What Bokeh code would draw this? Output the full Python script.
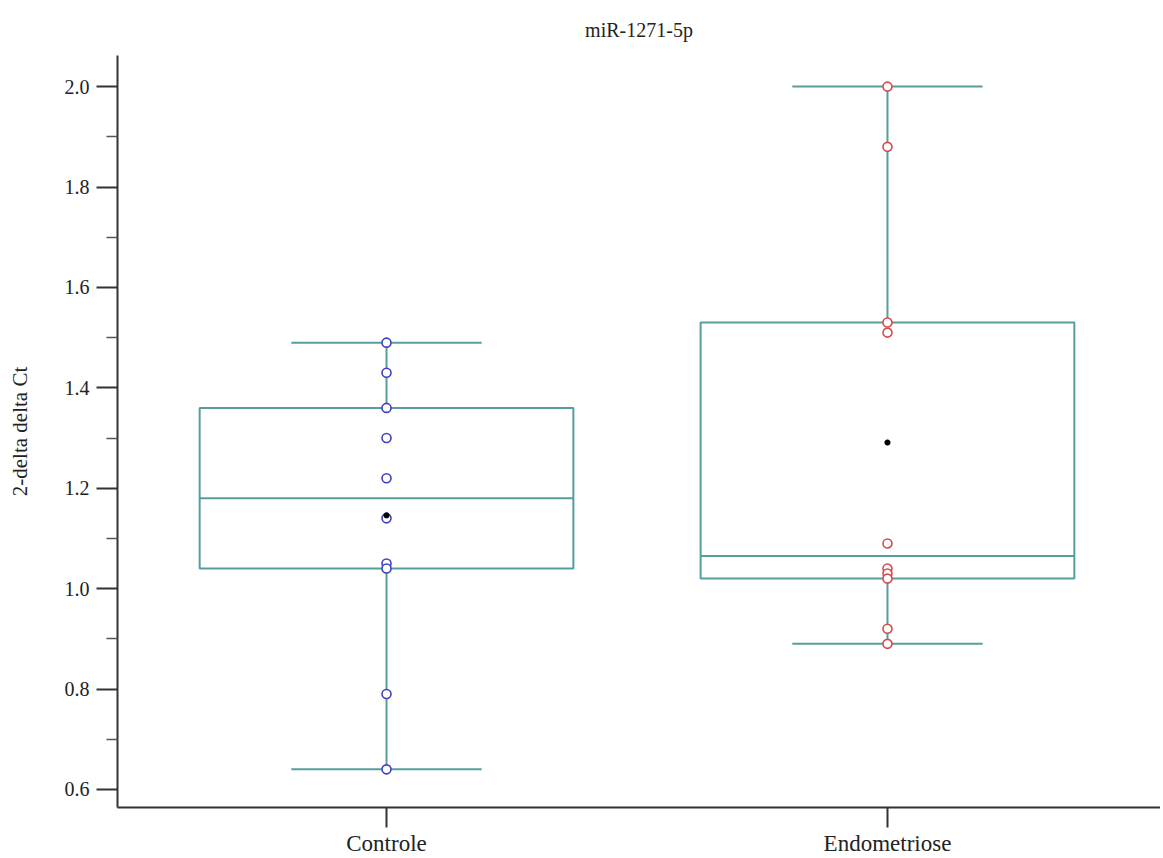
import numpy as np
from bokeh.plotting import figure
from bokeh.models import Range1d, FixedTicker, NumeralTickFormatter
from bokeh.embed import file_html
from bokeh.resources import INLINE

# ---- data ----
title_text = "miR-1271-5p"
y_label = "2-delta delta Ct"
categories = ["Controle", "Endometriose"]
controle = [1.49, 1.43, 1.36, 1.30, 1.22, 1.14, 1.05, 1.04, 0.79, 0.64]
endometriose = [2.00, 1.88, 1.53, 1.51, 1.09, 1.04, 1.03, 1.02, 0.92, 0.89]
y_ticks = [0.6, 0.8, 1.0, 1.2, 1.4, 1.6, 1.8, 2.0]
y_minor_ticks = [0.7, 0.9, 1.1, 1.3, 1.5, 1.7, 1.9]

groups = [controle, endometriose]
point_colors = ["#3f3fc4", "#d64c4c"]
box_color = "#559e9e"
FONT = "Liberation Serif"


def tukey_stats(vals):
    s = np.sort(np.asarray(vals, dtype=float))
    n = len(s)
    med = float(np.median(s))
    half = (n + 1) // 2
    lower = s[:half]
    upper = s[n - half:]
    return dict(min=float(s[0]), q1=float(np.median(lower)), med=med,
                q3=float(np.median(upper)), max=float(s[-1]), mean=float(s.mean()))


p = figure(width=1160, height=858, output_backend="svg", toolbar_location=None,
           x_range=Range1d(-0.537, 1.545), y_range=Range1d(0.564, 2.062),
           min_border_left=117, min_border_right=0, min_border_top=55, min_border_bottom=51,
           title=title_text)

p.grid.visible = False
p.outline_line_color = None
p.background_fill_color = "white"
p.border_fill_color = "white"

p.title.align = "center"
p.title.text_font = FONT
p.title.text_font_size = "20px"
p.title.text_font_style = "normal"
p.title.text_color = "#222222"
p.title.standoff = 30

BOX_HW = 0.373
CAP_HW = 0.19
for i, g in enumerate(groups):
    st = tukey_stats(g)
    x = float(i)
    # whiskers
    p.segment(x0=[x, x], y0=[st["q3"], st["q1"]], x1=[x, x], y1=[st["max"], st["min"]],
              line_color=box_color, line_width=2)
    # caps
    p.segment(x0=[x - CAP_HW, x - CAP_HW], y0=[st["max"], st["min"]],
              x1=[x + CAP_HW, x + CAP_HW], y1=[st["max"], st["min"]],
              line_color=box_color, line_width=2)
    # box
    p.quad(left=[x - BOX_HW], right=[x + BOX_HW], bottom=[st["q1"]], top=[st["q3"]],
           fill_color=None, line_color=box_color, line_width=2)
    # median
    p.segment(x0=[x - BOX_HW], y0=[st["med"]], x1=[x + BOX_HW], y1=[st["med"]],
              line_color=box_color, line_width=2)
    # points
    p.scatter(x=[x] * len(g), y=g, marker="circle", size=9, fill_color="white",
              line_color=point_colors[i], line_width=1.6)
    # mean
    p.scatter(x=[x], y=[st["mean"]], marker="asterisk", size=6, line_color="black",
              line_width=2)

# axes
xa = p.xaxis[0]
xa.ticker = FixedTicker(ticks=[0, 1])
xa.major_label_overrides = {0: categories[0], 1: categories[1]}
xa.axis_line_color = "#333333"
xa.axis_line_width = 2
xa.major_tick_line_color = "#333333"
xa.major_tick_line_width = 2
xa.major_tick_in = 0
xa.major_tick_out = 20
xa.minor_tick_line_color = None
xa.major_label_text_font = FONT
xa.major_label_text_font_size = "23px"
xa.major_label_text_color = "#222222"
xa.major_label_standoff = 3

ya = p.yaxis[0]
ya.ticker = FixedTicker(ticks=y_ticks, minor_ticks=y_minor_ticks)
ya.formatter = NumeralTickFormatter(format="0.0")
ya.axis_line_color = "#333333"
ya.axis_line_width = 2
ya.major_tick_line_color = "#333333"
ya.major_tick_line_width = 2
ya.major_tick_in = 0
ya.major_tick_out = 21
ya.minor_tick_line_color = "#555555"
ya.minor_tick_line_width = 1.5
ya.minor_tick_in = 0
ya.minor_tick_out = 11
ya.major_label_text_font = FONT
ya.major_label_text_font_size = "20px"
ya.major_label_text_color = "#222222"
ya.major_label_standoff = 7
ya.axis_label = y_label
ya.axis_label_text_font = FONT
ya.axis_label_text_font_size = "21px"
ya.axis_label_text_font_style = "normal"
ya.axis_label_text_color = "#222222"
ya.axis_label_standoff = 30

open("out.html", "w").write(file_html(p, INLINE))
